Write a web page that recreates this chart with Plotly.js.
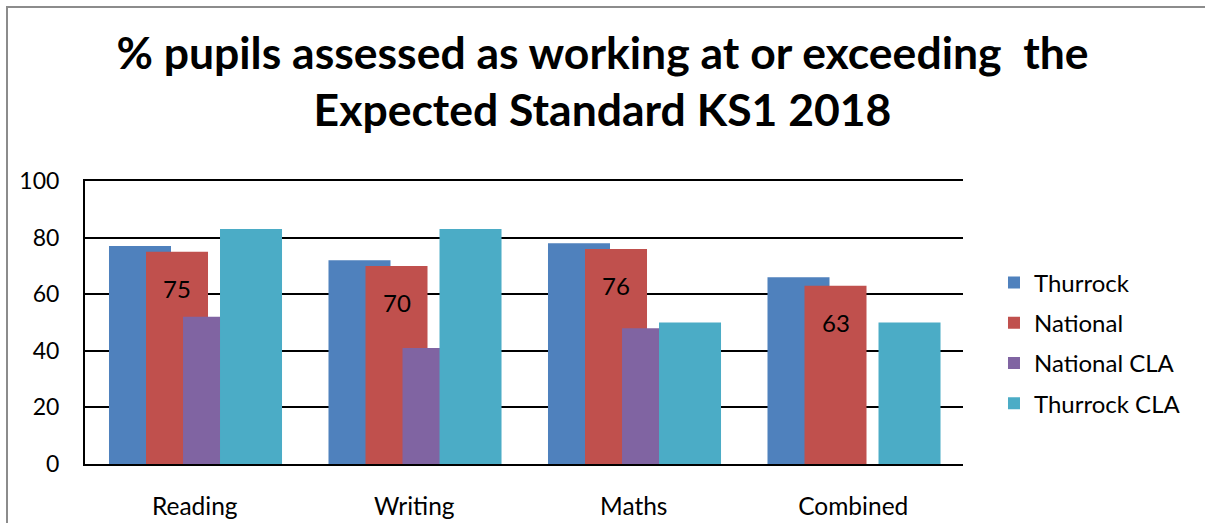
<!DOCTYPE html>
<html>
<head>
<meta charset="utf-8">
<script src="https://cdn.plot.ly/plotly-3.0.1.min.js"></script>
<style>
  html, body { margin: 0; padding: 0; background: #fff; overflow: hidden; }
  #wrap { position: relative; width: 1205px; height: 523px; }
  #chart { width: 1205px; height: 523px; }
  #frame { position: absolute; left: 6px; top: 6px; width: 1300px; height: 600px;
           border: 2px solid #8c8c8c; pointer-events: none; box-sizing: border-box; }
</style>
</head>
<body>
<div id="wrap">
  <div id="chart"></div>
  <div id="frame"></div>
</div>
<script>
// ---- data ----
const categories = ["Reading", "Writing", "Maths", "Combined"];
const seriesNames = ["Thurrock", "National", "National CLA", "Thurrock CLA"];
const thurrock    = [77, 72, 78, 66];
const national    = [75, 70, 76, 63];
const nationalCLA = [52, 41, 48, null];
const thurrockCLA = [83, 83, 50, 50];
const yTicks = [0, 20, 40, 60, 80, 100];

// ---- style ----
const colors = ["#4F81BD", "#C0504D", "#8064A2", "#4BACC6"];
const FONT = "Lato, 'Open Sans', sans-serif";
const barW = 0.2825;      // bar width in category units
const step = 0.1686;      // shift between series (bars overlap)
const firstOffset = -0.3907;

const values = [thurrock, national, nationalCLA, thurrockCLA];
const traces = values.map((v, i) => ({
  type: "bar",
  name: seriesNames[i],
  x: categories,
  y: v,
  width: barW,
  offset: firstOffset + i * step,
  marker: { color: colors[i], line: { width: 0 } },
  legendgroup: "g" + i,
  hoverinfo: "x+y+name"
}));

// data labels on the National series
const annotations = national.map((v, j) => ({
  xref: "x", yref: "y",
  x: j + firstOffset + step + barW / 2,
  y: v,
  text: String(v),
  showarrow: false,
  yanchor: "middle",
  yshift: -37,
  font: { family: FONT, size: 24, color: "#000" }
}));

const layout = {
  width: 1205, height: 523,
  paper_bgcolor: "#fff", plot_bgcolor: "#fff",
  margin: { l: 85, r: 242, t: 181, b: 59 },
  barmode: "overlay",
  title: {
    text: "% pupils assessed as working at or exceeding  the<br>Expected Standard KS1 2018",
    font: { family: FONT, size: 44.5, color: "#000", weight: "bold" },
    x: 0.5, xanchor: "center", xref: "container",
    y: 0.869, yanchor: "top", yref: "container"
  },
  xaxis: {
    type: "category",
    range: [-0.5, 3.5],
    showgrid: false, zeroline: false,
    showline: true, linecolor: "#000", linewidth: 2, mirror: true,
    ticks: "",
    tickfont: { family: FONT, size: 24.5, color: "#000" },
    ticklabelstandoff: 20
  },
  yaxis: {
    range: [0, 100],
    tickvals: yTicks,
    showgrid: true, gridcolor: "#000", gridwidth: 2,
    zeroline: false,
    showline: true, linecolor: "#000", linewidth: 2,
    ticks: "",
    tickfont: { family: FONT, size: 23, color: "#000" },
    ticklabelstandoff: 19
  },
  legend: {
    x: 1.0353, xanchor: "left", xref: "paper",
    y: 0.4276, yanchor: "middle",
    font: { family: FONT, size: 24, color: "#000" },
    traceorder: "grouped",
    tracegroupgap: 6,
    bgcolor: "rgba(0,0,0,0)"
  },
  annotations: annotations,
  showlegend: true
};

Plotly.newPlot("chart", traces, layout, { displayModeBar: false, responsive: false });
</script>
</body>
</html>
